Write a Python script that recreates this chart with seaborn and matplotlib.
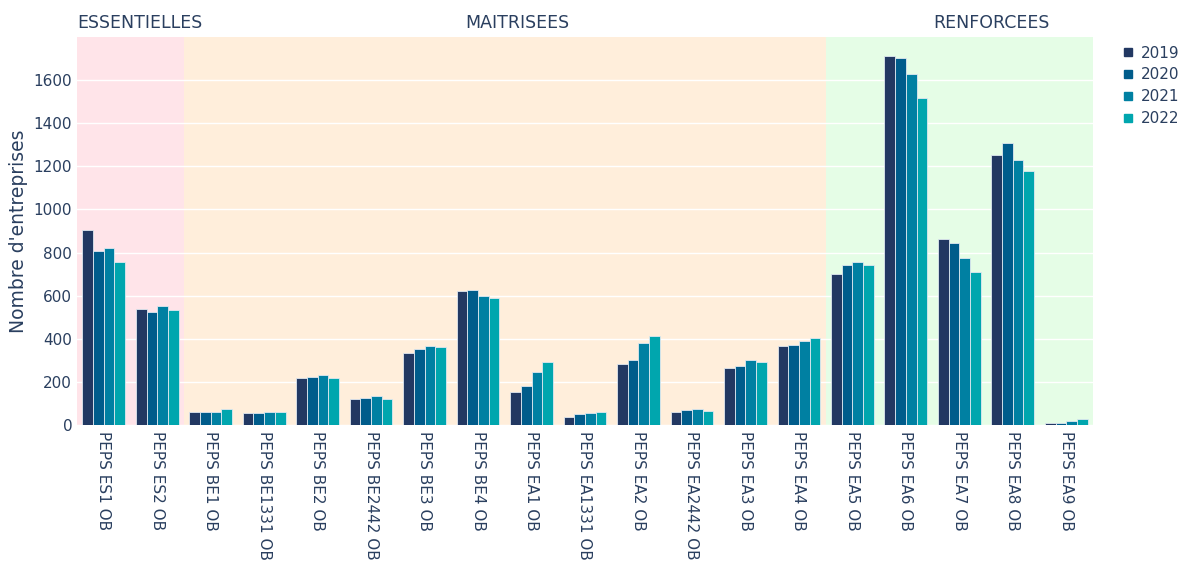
import pandas as pd
import seaborn as sns
import matplotlib.pyplot as plt
from matplotlib.lines import Line2D

# Données
categories = ["PEPS ES1 OB", "PEPS ES2 OB", "PEPS BE1 OB", "PEPS BE1331 OB", "PEPS BE2 OB",
              "PEPS BE2442 OB", "PEPS BE3 OB", "PEPS BE4 OB", "PEPS EA1 OB", "PEPS EA1331 OB",
              "PEPS EA2 OB", "PEPS EA2442 OB", "PEPS EA3 OB", "PEPS EA4 OB", "PEPS EA5 OB",
              "PEPS EA6 OB", "PEPS EA7 OB", "PEPS EA8 OB", "PEPS EA9 OB"]
years = ["2019", "2020", "2021", "2022"]
v2019 = [905, 537, 62, 57, 219, 119, 335, 623, 153, 37, 283, 60, 266, 365, 699, 1710, 861, 1251, 8]
v2020 = [805, 523, 62, 57, 223, 124, 351, 626, 182, 52, 303, 70, 272, 372, 741, 1701, 843, 1309, 8]
v2021 = [820, 552, 62, 62, 230, 133, 366, 598, 247, 56, 380, 73, 300, 388, 755, 1627, 776, 1231, 20]
v2022 = [757, 533, 74, 62, 216, 119, 363, 590, 294, 60, 411, 63, 292, 402, 741, 1515, 710, 1178, 26]
colors = ["#223862", "#005c8b", "#0080a2", "#00a6ae"]

# groupes de niveaux
groups = ["ESSENTIELLES", "MAITRISEES", "RENFORCEES"]
group_bounds = [(-0.5, 1.5), (1.5, 13.5), (13.5, 18.5)]
group_colors = ["#ffe4e9", "#ffeedb", "#e5fde6"]

df = pd.DataFrame({"categorie": categories * 4,
                   "annee": [y for y in years for _ in categories],
                   "nombre": v2019 + v2020 + v2021 + v2022})

text_color = "#2a3f5f"
plt.rcParams["font.family"] = ["DejaVu Sans"]

fig = plt.figure(figsize=(11.81, 5.61), dpi=100)
ax = fig.add_axes([77 / 1181, 136 / 561, 1016 / 1181, 388 / 561])

for (x0, x1), c in zip(group_bounds, group_colors):
    ax.axvspan(x0, x1, color=c, zorder=0, lw=0)

sns.barplot(data=df, x="categorie", y="nombre", hue="annee", palette=colors, saturation=1,
            width=0.8, edgecolor="#dfe8f0", linewidth=0.6, ax=ax, zorder=3)

ax.set_xlim(-0.5, len(categories) - 0.5)
ax.set_ylim(0, 1800)
ax.set_yticks(range(0, 1601, 200))
ax.yaxis.grid(True, color="white", linewidth=1, zorder=1)
ax.set_axisbelow(True)
for s in ax.spines.values():
    s.set_visible(False)
ax.tick_params(length=0, labelsize=11, labelcolor=text_color)
ax.tick_params(axis="x", pad=4)
plt.setp(ax.get_xticklabels(), rotation=-90, ha="center", va="top", rotation_mode="default")
ax.set_xlabel("")
ax.set_ylabel("Nombre d'entreprises", fontsize=13.5, color=text_color, labelpad=4)

# titres des groupes
ax.text(-0.5, 1.012, groups[0], transform=ax.get_xaxis_transform(), ha="left", va="bottom",
        fontsize=12.5, color=text_color)
ax.text(7.74, 1.012, groups[1], transform=ax.get_xaxis_transform(), ha="center", va="bottom",
        fontsize=12.5, color=text_color)
ax.text(16.6, 1.012, groups[2], transform=ax.get_xaxis_transform(), ha="center", va="bottom",
        fontsize=12.5, color=text_color)

ax.get_legend().remove()
handles = [Line2D([], [], marker="s", linestyle="", color=c, markersize=6) for c in colors]
fig.legend(handles, years, loc="upper left", bbox_to_anchor=(1116 / 1181, 1 - 41 / 561),
           frameon=False, fontsize=11, labelcolor=text_color, handletextpad=0.3,
           labelspacing=0.45, handlelength=1, borderaxespad=0, borderpad=0.3)

fig.savefig("out.png", dpi=100)
